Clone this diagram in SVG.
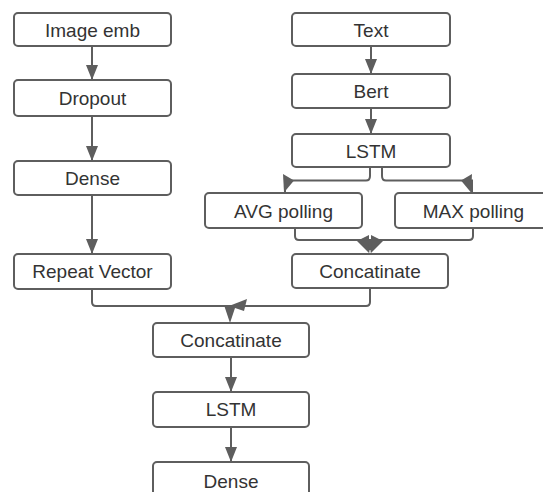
<svg xmlns="http://www.w3.org/2000/svg" width="543" height="492" viewBox="0 0 543 492">
  <defs>
    <marker id="arrow" viewBox="0 0 15 12" refX="15" refY="6" markerWidth="15" markerHeight="12" markerUnits="userSpaceOnUse" orient="auto">
      <path d="M0,0 L15,6 L0,12 Z" fill="#5e5e5e"/>
    </marker>
  </defs>
  <style>
    .box { fill: #ffffff; stroke: #5e5e5e; stroke-width: 2; }
    .lbl { font-family: "Liberation Sans", Arial, sans-serif; font-size: 19px; fill: #333333; text-anchor: middle; dominant-baseline: central; }
    .edge { fill: none; stroke: #5e5e5e; stroke-width: 2; }
    .head { fill: #5e5e5e; stroke: none; }
  </style>
  <rect width="543" height="492" fill="#ffffff"/>

  <!-- connectors -->
  <g id="connectors">
    <path class="edge" d="M92,46 V80" marker-end="url(#arrow)"/>
    <path class="edge" d="M92,116 V161" marker-end="url(#arrow)"/>
    <path class="edge" d="M92,195 V254" marker-end="url(#arrow)"/>
    <path class="edge" d="M371,46 V74" marker-end="url(#arrow)"/>
    <path class="edge" d="M371,108 V134" marker-end="url(#arrow)"/>

    <!-- LSTM split to the two pooling layers -->
    <path class="edge" d="M370,167 V176 Q370,180.5 366,180.5 H285 V193"/>
    <path class="edge" d="M382,167 V176 Q382,180.5 386,180.5 H472 V193"/>
    <polygon class="head" points="283,174 294,180.5 284,192.5"/>
    <polygon class="head" points="472,174 461,180.5 471,192.5"/>

    <!-- pooling layers merge -->
    <path class="edge" d="M295,228 V236 Q295,240 299,240 H370"/>
    <path class="edge" d="M473,228 V236 Q473,240 469,240 H370"/>
    <path class="edge" d="M370,240 V250"/>
    <polygon class="head" points="357,241 369,235 369,253"/>
    <polygon class="head" points="383,241 371,235 371,253"/>
    <polygon class="head" points="368.5,244 371.5,244 370,254"/>

    <!-- both branches merge -->
    <path class="edge" d="M92,289 V302 Q92,306 96,306 H230"/>
    <path class="edge" d="M370,288 V302 Q370,306 366,306 H230 V318"/>
    <polygon class="head" points="224,305 236,305 230,323"/>
    <polygon class="head" points="229,306 247,299 244,311"/>

    <path class="edge" d="M231,357 V392" marker-end="url(#arrow)"/>
    <path class="edge" d="M231,427 V462" marker-end="url(#arrow)"/>
  </g>

  <!-- image branch -->
  <g id="image-emb"><rect class="box" x="14" y="13" width="157" height="33" rx="4"/><text class="lbl" x="92.5" y="30">Image emb</text></g>
  <g id="dropout"><rect class="box" x="14" y="80" width="157" height="36" rx="4"/><text class="lbl" x="92.5" y="98">Dropout</text></g>
  <g id="dense-img"><rect class="box" x="14" y="161" width="157" height="34" rx="4"/><text class="lbl" x="92.5" y="178">Dense</text></g>
  <g id="repeat-vector"><rect class="box" x="14" y="254" width="157" height="35" rx="4"/><text class="lbl" x="92.5" y="271.5">Repeat Vector</text></g>

  <!-- text branch -->
  <g id="text"><rect class="box" x="292" y="13" width="158" height="33" rx="4"/><text class="lbl" x="371" y="30">Text</text></g>
  <g id="bert"><rect class="box" x="292" y="74" width="158" height="34" rx="4"/><text class="lbl" x="371" y="91">Bert</text></g>
  <g id="lstm-text"><rect class="box" x="292" y="134" width="158" height="33" rx="4"/><text class="lbl" x="371" y="151">LSTM</text></g>
  <g id="avg-polling"><rect class="box" x="205" y="193" width="157" height="35" rx="4"/><text class="lbl" x="283.5" y="211">AVG polling</text></g>
  <g id="max-polling"><rect class="box" x="395" y="193" width="157" height="35" rx="4"/><text class="lbl" x="473.5" y="211">MAX polling</text></g>
  <g id="concat-text"><rect class="box" x="292" y="254" width="156" height="34" rx="4"/><text class="lbl" x="370" y="271">Concatinate</text></g>

  <!-- merged head -->
  <g id="concat-main"><rect class="box" x="153" y="323" width="156" height="34" rx="4"/><text class="lbl" x="231" y="340">Concatinate</text></g>
  <g id="lstm-main"><rect class="box" x="153" y="392" width="156" height="35" rx="4"/><text class="lbl" x="231" y="409.5">LSTM</text></g>
  <g id="dense-main"><rect class="box" x="153" y="462" width="156" height="40" rx="4"/><text class="lbl" x="231" y="481">Dense</text></g>
</svg>
